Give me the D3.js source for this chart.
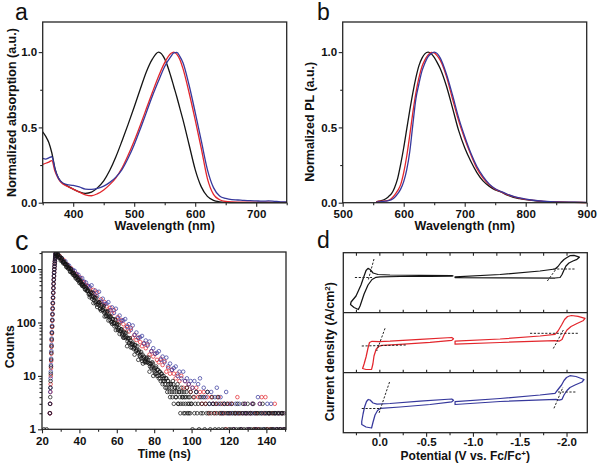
<!DOCTYPE html>
<html><head><meta charset="utf-8">
<script src="https://cdn.jsdelivr.net/npm/d3@7"></script>
<style>body{margin:0;background:#fff}</style>
</head><body>
<script>
// ---------------- DATA ----------------
// (a) normalized absorption
const absWavelength = [350,355,360,365,370,375,380,390,400,410,420,430,440,450,460,470,480,490,500,510,520,530,540,550,560,565,570,575,580,590,600,610,620,630,640,650,660,670,680,690,700,710,720,730,740,750];
const absBlack = [0.47,0.44,0.40,0.33,0.23,0.17,0.14,0.112,0.09,0.072,0.062,0.07,0.10,0.145,0.215,0.305,0.41,0.52,0.635,0.755,0.87,0.955,1.0,0.955,0.84,0.77,0.70,0.625,0.55,0.385,0.22,0.105,0.042,0.016,0.006,0.002,0.001,0,0,0,0,0,0,0,0,0];
const absRed   = [0.255,0.262,0.27,0.28,0.21,0.165,0.135,0.11,0.09,0.07,0.052,0.046,0.06,0.085,0.12,0.165,0.23,0.315,0.41,0.515,0.625,0.735,0.84,0.93,0.99,1.0,0.985,0.95,0.89,0.73,0.55,0.36,0.16,0.055,0.02,0.008,0.005,0.004,0.004,0.003,0.003,0.003,0.003,0.002,0.002,0.002];
const absBlue  = [0.295,0.29,0.298,0.305,0.225,0.17,0.14,0.12,0.115,0.105,0.09,0.088,0.095,0.11,0.135,0.17,0.22,0.295,0.385,0.49,0.60,0.71,0.81,0.905,0.97,0.995,0.998,0.97,0.93,0.78,0.60,0.41,0.22,0.10,0.045,0.028,0.02,0.018,0.015,0.014,0.012,0.01,0.012,0.009,0.006,0.005];

// (b) normalized PL
const plWavelength = [555,560,570,575,580,585,590,595,600,605,610,615,620,625,630,635,640,645,650,655,660,670,680,690,700,710,720,730,740,750,760,770,780,790,800,820,840,860,880,900];
const plBlack = [0.005,0.01,0.025,0.04,0.06,0.10,0.16,0.255,0.365,0.49,0.615,0.73,0.83,0.91,0.96,0.99,1.0,0.99,0.965,0.93,0.89,0.775,0.63,0.48,0.365,0.275,0.20,0.145,0.11,0.085,0.07,0.05,0.036,0.027,0.02,0.01,0.005,0.003,0.002,0.001];
const plRed   = [0.005,0.01,0.012,0.015,0.028,0.05,0.08,0.12,0.20,0.31,0.45,0.60,0.73,0.83,0.905,0.95,0.982,0.998,0.995,0.975,0.945,0.84,0.69,0.545,0.425,0.32,0.228,0.165,0.12,0.09,0.072,0.054,0.04,0.03,0.022,0.012,0.006,0.004,0.002,0.001];
const plBlue  = [0.004,0.006,0.01,0.013,0.02,0.035,0.058,0.09,0.14,0.22,0.34,0.52,0.69,0.79,0.875,0.93,0.97,0.99,1.0,0.99,0.96,0.855,0.715,0.565,0.44,0.33,0.24,0.175,0.125,0.093,0.074,0.056,0.042,0.032,0.024,0.013,0.007,0.004,0.003,0.002];

// (c) time-resolved PL counts
const riseStart = 24.2, riseStep = 0.1;          // ns
const riseBlack = [2,3,4,6,8,11,15,20,27,36,48,64,84,110,142,182,230,290,360,440,530,630,740,860,990,1120,1260,1400,1540,1680,1800,1900,1970];
const riseRed   = [2,2,3,5,7,10,14,19,26,35,46,62,82,108,140,178,226,286,355,435,525,625,735,855,985,1115,1255,1395,1535,1675,1795,1895,1965];
const riseBlue  = [2,3,5,6,9,12,16,21,29,38,50,66,87,113,146,186,235,296,366,447,538,639,750,870,1000,1130,1270,1410,1550,1690,1810,1905,1975];
const decayStart = 27.5, decayStartB = 27.75;
const blackStep = 0.5, colourStep = 1.0;          // ns
const decayBlack = [1995,1768,1938,1657,1726,1442,1612,1394,1274,1368,1230,1090,1195,1021,1065,889,994,859,786,844,759,672,737,630,656,548,613,530,484,520,468,415,455,389,405,338,
 298,374,305,364,231,289,236,290,195,227,238,181,167,209,171,203,129,162,132,162,109,127,133,101,94,116,96,114,72,90,74,91,61,71,74,57,52,66,53,64,36,51,41,51,34,40,42,32,25,37,30,36,20,28,23,28,19,17,23,18,18,22,18,22,12,17,14,18,10,14,
 11,15,10,13,9,12,8,11,7,10,8,6,9,5,8,6,4,7,5,8,
 3,6,4,5,7,3,5,2,6,4,3,5,2,4,6,3,2,4,5,3,
 1,4,2,3,5,2,3,1,4,2,3,2,4,1,3,2,5,2,3,1,
 2,4,3,2,1,3,2,4,1,2,3,2,1,2,3,1,2,3,2,1,
 2,1,3,2,1,2,2,1,3,2,1,2,1,2,3,1,2,2,1,3,
 2,1,2,1,2,3,1,2,1,2,2,1,2,1,2,3,1,2,1,2,
 1,2,2,1,2,1,2,1,2,2,1,2,1,2,1,2,2,1,2,1];
const decayBlackB = [1986,1837,1821,1634,1621,1499,1515,1332,1349,1247,1237,1110,1101,1018,1030,905,916,847,840,754,748,692,700,614,622,576,571,512,508,469,475,418,423,391,388,347,
 325,352,279,308,262,295,246,215,244,215,236,181,197,172,188,152,157,131,157,130,135,112,125,104,116,98,85,98,85,94,72,78,69,75,61,63,52,63,51,54,44,50,42,46,39,34,39,34,38,29,31,27,30,24,25,21,25,21,22,19,21,18,20,17,15,17,15,17,13,
 12,14,11,13,10,12,9,11,10,8,9,7,9,6,8,7,5,7,6,4,
 7,5,6,4,6,3,5,4,3,5,4,2,4,3,5,2,4,3,2,3];
const decayRed = [1995,1759,1750,1514,1490,1238,1221,1066,1040,927,
 818,813,704,693,576,567,496,483,431,356,
 407,317,367,239,271,218,240,200,166,189,
 147,170,111,126,101,111,93,77,87,68,
 79,52,59,47,52,43,36,41,33,39,
 25,29,23,26,20,18,21,16,19,12,
 14,11,13,11,9,11,8,10,6,8,
 6,7,5,6,4,6,4,5,3,5,
 3,4,2,4,3,2,3,4,2,3,
 2,1,3,2,3,1,2,4,2,1,
 2,3,2,1,2,3,1,2,1,3,
 4,2,4,1,2,1,2,3,1,2,
 1,2,1];
const decayBlue = [1995,1915,1647,1614,1373,1400,1205,1158,1005,966,
 927,797,782,665,678,584,561,487,468,497,
 350,396,312,376,245,279,221,226,240,170,
 192,151,181,119,135,107,110,116,82,93,
 73,88,58,65,51,53,56,40,46,37,
 44,29,33,26,27,29,20,23,18,22,
 15,17,13,14,15,10,12,9,12,8,
 9,7,8,6,8,5,7,9,4,6,
 4,5,3,5,3,4,6,3,4,2,
 3,5,2,3,2,1,3,2,3,1,
 2,3,2,1,2,3,2,1,4,3,
 2,1,2,3,2,3,1,2,1,2,
 1,2,1];
const preTimes = [21.0, 22.5];
const preBlack = [1, 1];

// (d) cyclic voltammetry: [potential (V vs Fc/Fc+), current (a.u.)]
const cvBlackOx  = [[-0.774,37.2],[-0.435,37.4],[-0.114,37.7],[0.014,38.2],[0.067,39.7],[0.099,43.2],[0.121,44.4],[0.142,42.2],[0.163,36.7],[0.196,27.7],[0.249,16.7],[0.302,10.7],[0.308,8.2],[0.270,5.2],[0.224,3.2],[0.206,6.7],[0.163,18.7],[0.121,27.7],[0.078,33.2],[0.035,35.4],[-0.007,35.9],[-0.221,36.2],[-0.542,36.4],[-0.774,36.5],[-0.787,36.9]];
const cvBlackRed = [[-0.809,35.9],[-1.290,38.2],[-1.717,41.7],[-1.877,43.7],[-1.909,46.2],[-1.941,50.2],[-1.973,53.2],[-2.005,55.2],[-2.037,57.0],[-2.080,57.4],[-2.137,55.5],[-2.112,53.4],[-2.069,51.7],[-2.026,49.7],[-1.994,46.7],[-1.973,42.7],[-1.952,38.2],[-1.931,35.2],[-1.877,34.7],[-1.290,34.9],[-0.809,35.1]];
const cvRedOx    = [[-0.774,35.2],[-0.435,33.4],[-0.114,31.5],[0.000,31.1],[0.078,31.4],[0.105,30.2],[0.121,24.7],[0.142,15.7],[0.163,8.7],[0.179,4.2],[0.142,3.2],[0.083,3.4],[0.069,8.7],[0.057,16.7],[0.035,23.2],[0.009,26.4],[-0.029,27.4],[-0.221,28.3],[-0.542,30.3],[-0.774,32.3],[-0.793,33.9]];
const cvRedRed   = [[-0.809,31.5],[-1.290,33.7],[-1.717,36.7],[-1.877,38.4],[-1.909,41.7],[-1.947,47.7],[-1.979,53.2],[-2.011,56.2],[-2.053,57.2],[-2.123,56.4],[-2.198,54.4],[-2.176,51.9],[-2.112,49.2],[-2.048,46.2],[-2.005,42.7],[-1.973,37.7],[-1.952,33.2],[-1.920,31.5],[-1.877,32.1],[-1.290,30.2],[-0.809,28.5]];
const cvBlueOx   = [[-0.774,33.7],[-0.435,31.5],[-0.114,29.2],[0.025,28.5],[0.067,29.7],[0.099,32.7],[0.118,33.2],[0.137,31.2],[0.158,25.7],[0.174,18.7],[0.188,11.2],[0.188,8.2],[0.142,5.7],[0.083,4.7],[0.067,10.7],[0.046,17.7],[0.019,22.2],[-0.013,24.4],[-0.221,25.7],[-0.542,28.2],[-0.774,30.9],[-0.793,32.4]];
const cvBlueRed  = [[-0.809,31.0],[-1.290,34.2],[-1.717,37.7],[-1.877,39.4],[-1.909,43.2],[-1.947,47.7],[-1.973,52.2],[-2.000,55.2],[-2.037,57.0],[-2.101,56.2],[-2.187,53.2],[-2.166,50.7],[-2.091,47.7],[-2.037,45.2],[-2.005,42.2],[-1.973,37.7],[-1.952,33.4],[-1.920,32.5],[-1.888,33.4],[-1.290,31.2],[-0.809,28.2]];
const tangBlack = [[[0.261,35.2],[0.078,35.2]],[[0.057,53.7],[0.121,31.7]],[[-1.859,43.7],[-2.090,43.7]],[[-1.795,31.7],[-1.899,45.0]]];
const tangRed   = [[[0.188,26.7],[-0.285,27.7]],[[-0.061,44.4],[0.028,21.7]],[[-1.610,39.4],[-2.126,39.4]],[[-1.859,24.2],[-1.966,42.7]]];
const tangBlue  = [[[0.188,24.2],[-0.007,24.2]],[[-0.109,50.7],[0.003,19.7]],[[-1.909,40.7],[-2.109,40.7]],[[-1.866,24.4],[-1.963,45.7]]];

// tick values
const absXMajor=[400,500,600,700], absXMinor=[350,450,550,650,750];
const plXMajor=[500,600,700,800,900], plXMinor=[550,650,750,850];
const normYMajor=[0,0.5,1.0], normYMinor=[0.25,0.75];
const tXMajor=[20,40,60,80,100,120,140], tXMinor=[30,50,70,90,110,130,150];
const cYMajor=[1,10,100,1000], cYMinor=[2,3,4,5,6,7,8,9,20,30,40,50,60,70,80,90,200,300,400,500,600,700,800,900,2000];
const vMajor=[0,-0.5,-1.0,-1.5,-2.0], vMinor=[0.25,-0.25,-0.75,-1.25,-1.75];

// ---------------- DRAWING ----------------
const FONT="'Liberation Sans', Arial, Helvetica, sans-serif";
const INK="#262626";
const COL={k:"#141414", r:"#e3262c", b:"#36389c"};
const svg=d3.select("body").append("svg").attr("width",600).attr("height",464).style("background","#fff");

function frame(x0,y0,x1,y1){
  svg.append("rect").attr("x",x0).attr("y",y0).attr("width",x1-x0).attr("height",y1-y0)
    .attr("fill","none").attr("stroke",INK).attr("stroke-width",1.3);
}
function axis(kind, scale, pos, values, size, fmt, pad){
  const horiz = (kind===d3.axisBottom||kind===d3.axisTop);
  const g=svg.append("g").attr("transform", horiz?`translate(0,${pos})`:`translate(${pos},0)`)
    .call(kind(scale).tickValues(values).tickSize(size).tickPadding(pad==null?3:pad).tickFormat(fmt||(()=>"")));
  g.select(".domain").remove();
  g.selectAll("line").attr("stroke",INK).attr("stroke-width",1.1);
  g.selectAll("text").attr("font-family",FONT).attr("font-weight","bold").attr("font-size",11.5).attr("fill","#111");
  return g;
}
function title(txt,x,y,rot,size){
  const t=svg.append("text").attr("font-family",FONT).attr("font-weight","bold").attr("font-size",size||12.5)
    .attr("fill","#111").attr("text-anchor","middle");
  if(rot) t.attr("transform",`translate(${x},${y}) rotate(-90)`); else t.attr("x",x).attr("y",y);
  return t.text(txt);
}
function letter(txt,x,y,size){
  svg.append("text").attr("x",x).attr("y",y).attr("font-family",FONT).attr("font-size",size||23).attr("fill","#111").text(txt);
}
const f1=d=>d.toFixed(1);

// ---- panel a ----
{
  const x=d3.scaleLinear([350,750],[42.7,286.7]), y=d3.scaleLinear([0,1.2],[202.7,22]);
  const line=d3.line().x(d=>x(d[0])).y(d=>y(d[1])).curve(d3.curveMonotoneX);
  [[absBlack,COL.k],[absRed,COL.r],[absBlue,COL.b]].forEach(([s,c])=>{
    svg.append("path").attr("d",line(absWavelength.map((w,i)=>[w,s[i]]))).attr("fill","none").attr("stroke",c).attr("stroke-width",1.3);
  });
  frame(42.7,22,286.7,202.7);
  axis(d3.axisBottom,x,202.7,absXMajor,4,d3.format("d"),3.5);
  axis(d3.axisBottom,x,202.7,absXMinor,2.5);
  axis(d3.axisLeft,y,42.7,normYMajor,4,f1,1.5);
  axis(d3.axisLeft,y,42.7,normYMinor,2.5);
  title("Wavelength (nm)",164.7,230);
  title("Normalized absorption (a.u.)",16,112.5,true);
  letter("a",15,20);
}
// ---- panel b ----
{
  const x=d3.scaleLinear([500,900],[342.7,586.7]), y=d3.scaleLinear([0,1.2],[202.7,22]);
  const line=d3.line().x(d=>x(d[0])).y(d=>y(d[1])).curve(d3.curveMonotoneX);
  [[plBlack,COL.k],[plRed,COL.r],[plBlue,COL.b]].forEach(([s,c])=>{
    svg.append("path").attr("d",line(plWavelength.map((w,i)=>[w,s[i]]))).attr("fill","none").attr("stroke",c).attr("stroke-width",1.3);
  });
  frame(342.7,22,586.7,202.7);
  axis(d3.axisBottom,x,202.7,plXMajor,4,d3.format("d"),3.5);
  axis(d3.axisBottom,x,202.7,plXMinor,2.5);
  axis(d3.axisLeft,y,342.7,normYMajor,4,f1,1.5);
  axis(d3.axisLeft,y,342.7,normYMinor,2.5);
  title("Wavelength (nm)",464.7,230);
  title("Normalized PL (a.u.)",314,121.7,true);
  letter("b",317,20);
}
// ---- panel c ----
{
  const x=d3.scaleLinear([20,150.5],[42,286]), y=d3.scaleLog([1,2090],[429.3,252]);
  svg.append("clipPath").attr("id","clipc").append("rect").attr("x",42).attr("y",252).attr("width",244).attr("height",177.3);
  const g=svg.append("g").attr("clip-path","url(#clipc)");
  const seq=(start,step,vals)=>vals.map((c,i)=>[start+i*step,c]);
  const series=[
    [seq(riseStart,riseStep,riseRed).concat(seq(decayStart,colourStep,decayRed)),COL.r],
    [seq(riseStart,riseStep,riseBlue).concat(seq(decayStart,colourStep,decayBlue)),COL.b],
    [seq(riseStart,riseStep,riseBlack).concat(seq(decayStart,blackStep,decayBlack),seq(decayStartB,blackStep,decayBlackB),preTimes.map((t,i)=>[t,preBlack[i]])),COL.k]
  ];
  series.forEach(([p,c])=>{
    g.append("g").selectAll("circle").data(p).join("circle")
      .attr("cx",d=>x(d[0])).attr("cy",d=>y(d[1])).attr("r",1.8)
      .attr("fill","none").attr("stroke",c).attr("stroke-width",0.8).attr("stroke-opacity",0.9);
  });
  frame(42,252,286,429.3);
  axis(d3.axisBottom,x,429.3,tXMajor,4,d3.format("d"),3.5);
  axis(d3.axisBottom,x,429.3,tXMinor,2.5);
  axis(d3.axisLeft,y,42,cYMajor,4,d3.format("d"),2);
  axis(d3.axisLeft,y,42,cYMinor,2.5);
  title("Time (ns)",164.3,458,false,12);
  title("Counts",13.5,346.7,true);
  letter("c",15,250,27);
}
// ---- panel d ----
{
  const x=d3.scaleLinear([0.385,-2.222],[343.3,587.3]);
  const bounds=[252.7,312.7,372.7,432.7];
  const groups=[[cvBlackOx,cvBlackRed,tangBlack,COL.k],[cvRedOx,cvRedRed,tangRed,COL.r],[cvBlueOx,cvBlueRed,tangBlue,COL.b]];
  groups.forEach(([ox,red,tang,c],k)=>{
    const y=d3.scaleLinear([0,60],[bounds[k+1],bounds[k]]);
    const loop=d3.line().x(d=>x(d[0])).y(d=>y(d[1])).curve(d3.curveLinearClosed);
    [ox,red].forEach(s=>svg.append("path").attr("d",loop(s)).attr("fill","none").attr("stroke",c).attr("stroke-width",1.25).attr("stroke-linejoin","round"));
    const seg=d3.line().x(d=>x(d[0])).y(d=>y(d[1]));
    tang.forEach(t=>svg.append("path").attr("d",seg(t)).attr("fill","none").attr("stroke","#222").attr("stroke-width",1).attr("stroke-dasharray","2.2,1.6"));
  });
  frame(343.3,252.7,587.3,432.7);
  [312.7,372.7].forEach(b=>svg.append("line").attr("x1",343.3).attr("x2",587.3).attr("y1",b).attr("y2",b).attr("stroke",INK).attr("stroke-width",1.3));
  [312.7,372.7].forEach(b=>axis(d3.axisBottom,x,b,vMajor.concat(vMinor),-3));
  axis(d3.axisTop,x,252.7,vMajor.concat(vMinor),-3);
  axis(d3.axisBottom,x,432.7,vMajor,4,f1,1);
  axis(d3.axisBottom,x,432.7,vMinor,2.5);
  const tx=title("",465.3,460,false,12);
  tx.append("tspan").text("Potential (V vs. Fc/Fc");
  tx.append("tspan").attr("dy",-4.5).attr("font-size",8).text("+");
  tx.append("tspan").attr("dy",4.5).text(")");
  const ty=title("",334,351.7,true);
  ty.append("tspan").text("Current density (A/cm");
  ty.append("tspan").attr("dy",-4.5).attr("font-size",8).text("2");
  ty.append("tspan").attr("dy",4.5).text(")");
  letter("d",317,248.3);
}
</script>
</body></html>
